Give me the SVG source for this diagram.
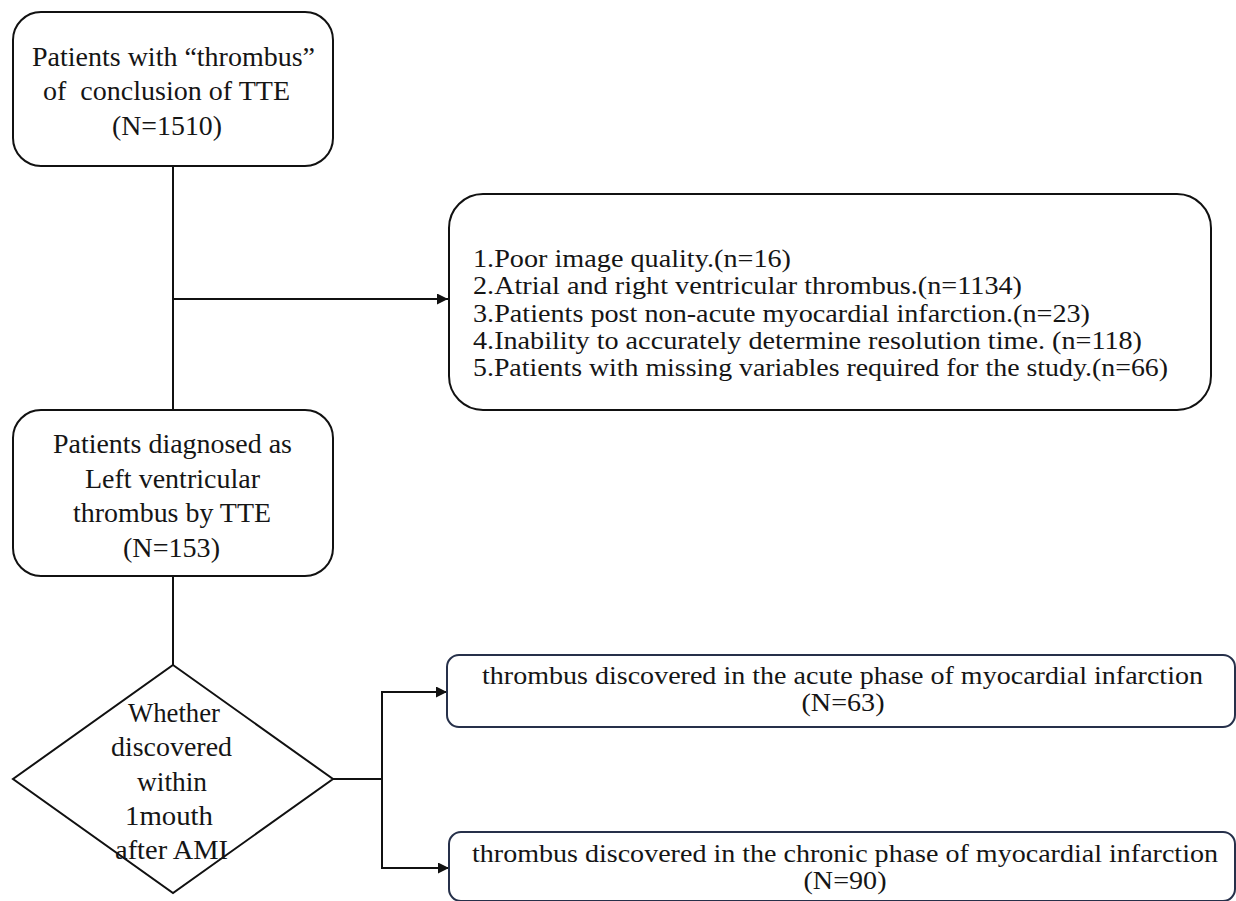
<svg xmlns="http://www.w3.org/2000/svg" width="1236" height="901" viewBox="0 0 1236 901">
<style>
.box{fill:#fff;stroke:#111;stroke-width:2}
.nbox{fill:#fff;stroke:#26304a;stroke-width:2}
.t{font-family:"Liberation Serif","Times New Roman",serif;font-size:24px;fill:#151515}
.lg{font-size:27px}
.md{font-size:25px}
.c{stroke:#111;stroke-width:2;fill:none}
</style>
<defs>
<marker id="arr" markerUnits="userSpaceOnUse" markerWidth="12" markerHeight="11" refX="11" refY="5.5" orient="auto">
<path d="M0,0 L11,5.5 L0,11 z" fill="#111"/>
</marker>
</defs>
<rect width="1236" height="901" fill="#fff"/>
<g id="connectors">
<line class="c" x1="173" y1="166" x2="173" y2="410"/>
<line class="c" x1="173" y1="299" x2="448" y2="299" marker-end="url(#arr)"/>
<line class="c" x1="173" y1="576" x2="173" y2="665"/>
<polyline class="c" points="333,779 382,779"/>
<line class="c" x1="382" y1="691" x2="382" y2="869"/>
<line class="c" x1="381" y1="692" x2="447" y2="692" marker-end="url(#arr)"/>
<line class="c" x1="381" y1="868" x2="449" y2="868" marker-end="url(#arr)"/>
</g>
<g id="n1">
<rect class="box" x="13" y="12" width="320" height="154" rx="28"/>
<text class="t lg" x="32" y="66" textLength="283" lengthAdjust="spacingAndGlyphs">Patients with “thrombus”</text>
<text class="t lg" x="43" y="100" textLength="247" lengthAdjust="spacingAndGlyphs" xml:space="preserve">of  conclusion of TTE</text>
<text class="t lg" x="112" y="134.5" textLength="110" lengthAdjust="spacingAndGlyphs">(N=1510)</text>
</g>
<g id="excl">
<rect class="box" x="449" y="194" width="762" height="216" rx="34"/>
<text class="t md" x="473" y="267" textLength="318" lengthAdjust="spacingAndGlyphs">1.Poor image quality.(n=16)</text>
<text class="t md" x="473" y="294" textLength="549" lengthAdjust="spacingAndGlyphs">2.Atrial and right ventricular thrombus.(n=1134)</text>
<text class="t md" x="473" y="321.5" textLength="617" lengthAdjust="spacingAndGlyphs">3.Patients post non-acute myocardial infarction.(n=23)</text>
<text class="t md" x="473" y="348.5" textLength="669" lengthAdjust="spacingAndGlyphs">4.Inability to accurately determine resolution time. (n=118)</text>
<text class="t md" x="473" y="375.5" textLength="695" lengthAdjust="spacingAndGlyphs">5.Patients with missing variables required for the study.(n=66)</text>
</g>
<g id="n2">
<rect class="box" x="13" y="410" width="320" height="166" rx="28"/>
<text class="t lg" x="53" y="453" textLength="239" lengthAdjust="spacingAndGlyphs">Patients diagnosed as</text>
<text class="t lg" x="85" y="487.5" textLength="175" lengthAdjust="spacingAndGlyphs">Left ventricular</text>
<text class="t lg" x="73" y="522" textLength="198" lengthAdjust="spacingAndGlyphs">thrombus by TTE</text>
<text class="t lg" x="123" y="556.5" textLength="97" lengthAdjust="spacingAndGlyphs">(N=153)</text>
</g>
<g id="decision">
<polygon class="box" points="173,665 333,779 173,893 13,779" style="fill:none"/>
<text class="t lg" x="128" y="721.5" textLength="92" lengthAdjust="spacingAndGlyphs">Whether</text>
<text class="t lg" x="111" y="756" textLength="121" lengthAdjust="spacingAndGlyphs">discovered</text>
<text class="t lg" x="137" y="790.5" textLength="70" lengthAdjust="spacingAndGlyphs">within</text>
<text class="t lg" x="125" y="825" textLength="88" lengthAdjust="spacingAndGlyphs">1mouth</text>
<text class="t lg" x="115" y="859" textLength="113" lengthAdjust="spacingAndGlyphs">after AMI</text>
</g>
<g id="acute">
<rect class="nbox" x="447" y="655" width="788" height="72" rx="12"/>
<text class="t md" x="482" y="684" textLength="721" lengthAdjust="spacingAndGlyphs">thrombus discovered in the acute phase of myocardial infarction</text>
<text class="t md" x="801.5" y="711" textLength="83" lengthAdjust="spacingAndGlyphs">(N=63)</text>
</g>
<g id="chronic">
<rect class="nbox" x="449" y="832" width="786" height="69" rx="12"/>
<text class="t md" x="472" y="861.5" textLength="746" lengthAdjust="spacingAndGlyphs">thrombus discovered in the chronic phase of myocardial infarction</text>
<text class="t md" x="803.5" y="889" textLength="83" lengthAdjust="spacingAndGlyphs">(N=90)</text>
</g>
</svg>
